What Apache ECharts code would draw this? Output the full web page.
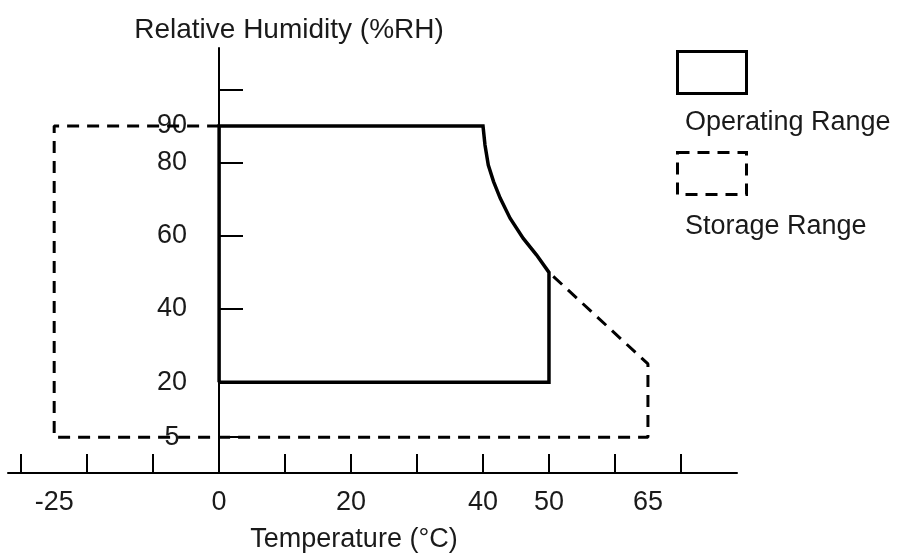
<!DOCTYPE html>
<html>
<head>
<meta charset="utf-8">
<script src="https://cdn.jsdelivr.net/npm/echarts@6/dist/echarts.min.js"></script>
<style>
  html, body { margin: 0; padding: 0; background: #fff; }
  #main { width: 899px; height: 559px; }
</style>
</head>
<body>
<div id="main"></div>
<script>
// temperature / humidity envelope
var operatingTemp = [0, 0, 40, 40.3, 40.8, 41.6, 42.6, 44.1, 46.1, 48.1, 50, 50, 0];
var operatingRH   = [20, 90, 90, 84.8, 79.3, 74.8, 70.3, 64.8, 59.3, 54.8, 50, 20, 20];

// storage outline, the shared part (0..50 degC along the top) is the operating edge
var storageTemp = [0, -25, -25, 65, 65, 50];
var storageRH   = [90, 90, 5, 5, 25, 50];

var tempTicks  = [-30, -20, -10, 0, 10, 20, 30, 40, 50, 60, 70];
var tempLabels = [-25, 0, 20, 40, 50, 65];
var rhTicks    = [5, 20, 40, 60, 80, 100];
var rhLabels   = [5, 20, 40, 60, 80, 90];

function pairs(xs, ys) {
    return xs.map(function (x, i) { return [x, ys[i]]; });
}

var font = "'Liberation Sans', Arial, sans-serif";
var ink = '#1a1a1a';

var myChart = echarts.init(document.getElementById('main'));

var option = {
    backgroundColor: '#fff',
    animation: false,
    grid: {
        left: 8,
        right: 162,
        top: 48,
        bottom: 86,
        outerBoundsMode: 'none'
    },
    legend: [
        {
            // boxes only
            orient: 'vertical',
            left: 671,
            top: 45,
            itemWidth: 69,
            itemHeight: 42,
            itemGap: 56,
            selectedMode: false,
            formatter: function () { return ''; },
            textStyle: { fontSize: 10 },
            data: [
                {name: 'Operating Range', icon: 'rect',
                 itemStyle: {color: '#fff', borderColor: '#000', borderWidth: 3}},
                {name: 'Storage Range', icon: 'rect',
                 itemStyle: {color: '#fff', borderColor: '#000', borderWidth: 3, borderType: [12, 8]}}
            ]
        },
        {
            // captions only
            orient: 'vertical',
            left: 675,
            top: 103,
            itemWidth: 0,
            itemHeight: 30,
            itemGap: 74,
            selectedMode: false,
            icon: 'rect',
            itemStyle: {opacity: 0},
            textStyle: {fontFamily: font, fontSize: 27, color: ink, lineHeight: 30},
            data: ['Operating Range', 'Storage Range']
        }
    ],
    xAxis: {
        type: 'value',
        min: -32,
        max: 78.5,
        name: 'Temperature (°C)',
        nameLocation: 'middle',
        nameGap: 53,
        nameTextStyle: {fontFamily: font, fontSize: 27, color: ink, padding: [0, 37, 0, 0]},
        axisLine: {onZero: false, lineStyle: {color: '#000', width: 2}},
        axisTick: {
            show: true,
            inside: true,
            length: 19,
            customValues: tempTicks,
            lineStyle: {color: '#000', width: 2}
        },
        axisLabel: {
            customValues: tempLabels,
            margin: 16,
            fontFamily: font,
            fontSize: 27,
            color: ink
        },
        splitLine: {show: false}
    },
    yAxis: {
        type: 'value',
        min: -4.8,
        max: 111.3,
        position: 'left',
        offset: -211,   // put the axis on 0 degC
        name: 'Relative Humidity (%RH)',
        nameLocation: 'end',
        nameGap: 4,
        nameTextStyle: {fontFamily: font, fontSize: 28, color: ink, padding: [0, 0, 0, 140]},
        axisLine: {show: true, onZero: false, lineStyle: {color: '#000', width: 2}},
        axisTick: {
            show: true,
            inside: true,
            length: 24,
            customValues: rhTicks,
            lineStyle: {color: '#000', width: 2}
        },
        axisLabel: {
            show: true,
            customValues: rhLabels,
            margin: 47,
            align: 'center',
            fontFamily: font,
            fontSize: 27,
            color: ink
        },
        splitLine: {show: false}
    },
    series: [
        {
            name: 'Storage Range',
            type: 'line',
            data: pairs(storageTemp, storageRH),
            showSymbol: false,
            symbol: 'none',
            silent: true,
            lineStyle: {color: '#000', width: 3, type: [12, 8]},
            itemStyle: {color: '#000'},
            z: 2
        },
        {
            name: 'Operating Range',
            type: 'line',
            data: pairs(operatingTemp, operatingRH),
            showSymbol: false,
            symbol: 'none',
            silent: true,
            lineStyle: {color: '#000', width: 3.5, join: 'miter'},
            itemStyle: {color: '#000'},
            z: 3
        }
    ]
};

myChart.setOption(option);
</script>
</body>
</html>
